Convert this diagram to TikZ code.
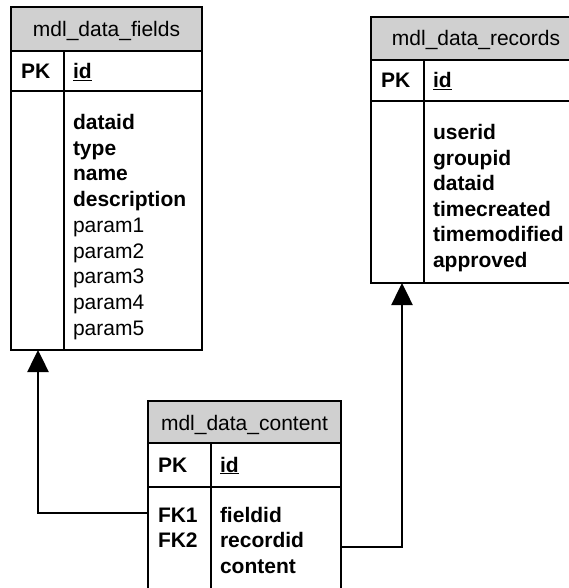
\documentclass[tikz,border=0pt]{standalone}
\usepackage{fontspec}
\setmainfont{Liberation Sans}
\usetikzlibrary{arrows.meta}
\definecolor{headgray}{RGB}{208,208,208}
\tikzset{
  box/.style={draw=black, line width=1.5pt, anchor=north west, inner sep=0pt, outer sep=0pt},
  hdr/.style={box, fill=headgray},
  divline/.style={draw=black, line width=1.5pt},
  txt/.style={anchor=base west, inner sep=0pt, outer sep=0pt, font=\fontsize{21}{25}\selectfont},
  btxt/.style={txt, font=\fontsize{21}{25}\selectfont\bfseries},
  ttl/.style={anchor=base, inner sep=0pt, outer sep=0pt, font=\fontsize{21}{25}\selectfont},
  conn/.style={line width=2.5pt, -{Triangle[width=21pt,length=22pt]}},
}
\newcommand{\uid}{\underline{id}}
\begin{document}
\begin{tikzpicture}[x=1pt,y=1pt]
\useasboundingbox (0,0) rectangle (569,-588);
\begin{scope}
\clip (0,0) rectangle (569,-588);
% ---------- mdl_data_fields ----------
\node[hdr, minimum width=191pt, minimum height=44pt] (f-head) at (11,-7) {};
\node[box, minimum width=191pt, minimum height=40pt] (f-pk) at (11,-51) {};
\node[box, minimum width=191pt, minimum height=259pt] (f-body) at (11,-91) {};
\draw[divline] ([xshift=53pt]f-pk.north west) -- ([xshift=53pt]f-body.south west);
\node[ttl] (f-title) at (106.5,-37) {mdl\_data\_fields};
\node[btxt] (f-pk-l) at (21,-79) {PK};
\node[btxt] (f-id) at (73,-79) {\uid};
\node[btxt] (f-1) at (73,-129.5) {dataid};
\node[btxt] (f-2) at (73,-155.2) {type};
\node[btxt] (f-3) at (73,-180.9) {name};
\node[btxt] (f-4) at (73,-206.6) {description};
\node[txt] (f-5) at (73,-232.3) {param1};
\node[txt] (f-6) at (73,-258) {param2};
\node[txt] (f-7) at (73,-283.7) {param3};
\node[txt] (f-8) at (73,-309.4) {param4};
\node[txt] (f-9) at (73,-335.1) {param5};
% ---------- mdl_data_records ----------
\node[hdr, minimum width=210pt, minimum height=43pt] (r-head) at (371,-17) {};
\node[box, minimum width=210pt, minimum height=41pt] (r-pk) at (371,-60) {};
\node[box, minimum width=210pt, minimum height=182pt] (r-body) at (371,-101) {};
\draw[divline] ([xshift=53pt]r-pk.north west) -- ([xshift=53pt]r-body.south west);
\node[ttl] (r-title) at (476,-46) {mdl\_data\_records};
\node[btxt] (r-pk-l) at (381,-88) {PK};
\node[btxt] (r-id) at (433,-88) {\uid};
\node[btxt] (r-1) at (433,-140) {userid};
\node[btxt] (r-2) at (433,-165.4) {groupid};
\node[btxt] (r-3) at (433,-190.8) {dataid};
\node[btxt] (r-4) at (433,-216.2) {timecreated};
\node[btxt] (r-5) at (433,-241.6) {timemodified};
\node[btxt] (r-6) at (433,-267) {approved};
% ---------- mdl_data_content ----------
\node[hdr, minimum width=193pt, minimum height=42pt] (c-head) at (148,-401) {};
\node[box, minimum width=193pt, minimum height=44pt] (c-pk) at (148,-443) {};
\node[box, minimum width=193pt, minimum height=120pt] (c-body) at (148,-487) {};
\draw[divline] ([xshift=63pt]c-pk.north west) -- ([xshift=63pt]c-body.south west);
\node[ttl] (c-title) at (244.5,-430) {mdl\_data\_content};
\node[btxt] (c-pk-l) at (158,-472) {PK};
\node[btxt] (c-id) at (220,-472) {\uid};
\node[btxt] (c-fk1) at (158,-522) {FK1};
\node[btxt] (c-fk2) at (158,-547.5) {FK2};
\node[btxt] (c-1) at (220,-522) {fieldid};
\node[btxt] (c-2) at (220,-547.5) {recordid};
\node[btxt] (c-3) at (220,-573) {content};
% ---------- connectors ----------
\draw[conn] ([yshift=-26pt]c-body.north west) -| ([xshift=27pt]f-body.south west);
\draw[conn] ([yshift=-60pt]c-body.north east) -| ([xshift=31pt]r-body.south west);
\end{scope}
\end{tikzpicture}
\end{document}
